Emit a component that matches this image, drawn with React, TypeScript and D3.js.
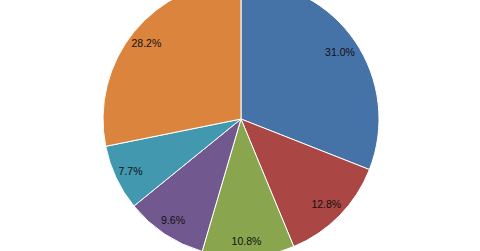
import React from "react";
import * as d3 from "d3";

const labels = ["A", "B", "C", "D", "E", "F"];
const values = [31.0, 12.8, 10.8, 9.6, 7.7, 28.2];
const colors = ["#4572A7", "#AA4643", "#89A54E", "#71588F", "#4198AF", "#DB843D"];

export default function App() {
  const W = 480, H = 251;
  const cx = 241, cy = 119, R = 138;
  const pie = d3.pie<number>().sort(null).value((d) => d);
  const arcs = pie(values);
  const arc = d3.arc<d3.PieArcDatum<number>>().innerRadius(0).outerRadius(R);
  const labelArc = d3.arc<d3.PieArcDatum<number>>().innerRadius(121).outerRadius(121);
  return (
    <svg width={W} height={H} style={{ position: "absolute", left: 0, top: 0 }}>
      <rect width={W} height={H} fill="#fff" />
      <g transform={`translate(${cx},${cy})`}>
        {arcs.map((a, i) => (
          <path key={labels[i]} d={arc(a) || ""} fill={colors[i]} stroke="#fff" strokeWidth={1} strokeLinejoin="round" />
        ))}
        {arcs.map((a, i) => {
          const [x, y] = labelArc.centroid(a);
          return (
            <text key={"t" + i} x={x - 1} y={y + 1} dy="0.35em" textAnchor="middle"
              fontFamily="Liberation Sans, Arial, sans-serif" fontSize={10.5} fill="#111">
              {values[i].toFixed(1)}%
            </text>
          );
        })}
      </g>
    </svg>
  );
}
